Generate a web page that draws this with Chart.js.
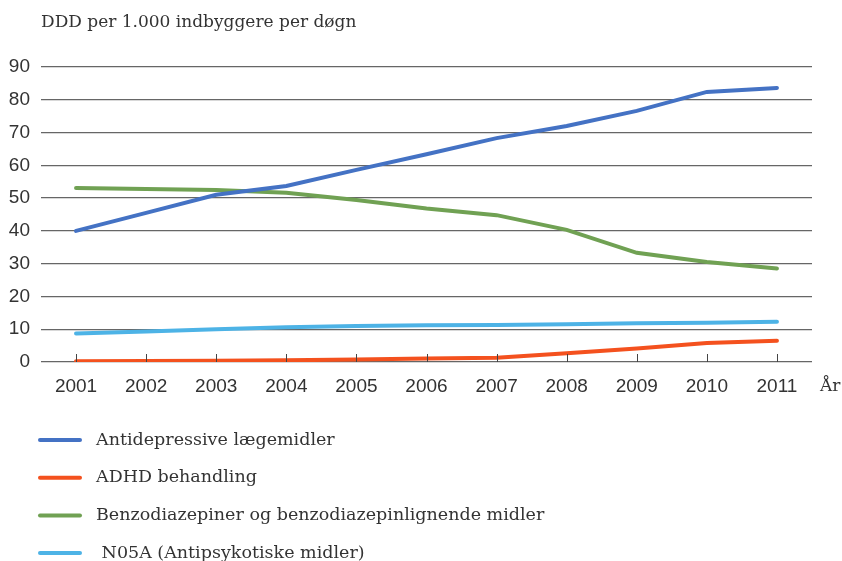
<!DOCTYPE html>
<html>
<script src="https://cdn.jsdelivr.net/npm/chart.js@4/dist/chart.umd.min.js"></script>
<body style="margin:0;background:#fff">

<canvas id="myChart" width="842" height="561"></canvas>

<script>
const years = ["2001","2002","2003","2004","2005","2006","2007","2008","2009","2010","2011"];
const antidepressive = [40.0, 45.5, 51.0, 53.7, 58.6, 63.4, 68.3, 72.0, 76.6, 82.4, 83.6];
const adhd = [0.2, 0.3, 0.4, 0.5, 0.8, 1.1, 1.3, 2.7, 4.1, 5.8, 6.5];
const benzo = [53.1, 52.8, 52.5, 51.6, 49.4, 46.8, 44.8, 40.3, 33.3, 30.5, 28.5];
const n05a = [8.7, 9.3, 10.0, 10.6, 11.0, 11.2, 11.3, 11.5, 11.8, 12.0, 12.3];
const seriesNames = ["Antidepressive lægemidler", "ADHD behandling", "Benzodiazepiner og benzodiazepinlignende midler", " N05A (Antipsykotiske midler)"];
const lineColors = ["#4472C4", "#F4511E", "#70A153", "#4DB3E6"];

const serif = "'DejaVu Serif', serif";
const sans = "'Liberation Sans', Arial, sans-serif";

// small tick marks inside the plot, the "År" label and the stacked legend
const extras = {
  id: "extras",
  afterDraw(chart) {
    const ctx = chart.ctx;
    const area = chart.chartArea;
    const x = chart.scales.x;
    ctx.save();
    ctx.strokeStyle = "#444";
    ctx.lineWidth = 1;
    for (let i = 0; i < years.length; i++) {
      const px = Math.round(x.getPixelForValue(i)) + 0.5;
      ctx.beginPath();
      ctx.moveTo(px, area.bottom - 8);
      ctx.lineTo(px, area.bottom);
      ctx.stroke();
    }
    ctx.fillStyle = "#333";
    ctx.font = "17px " + serif;
    ctx.textBaseline = "middle";
    ctx.textAlign = "left";
    ctx.fillText("År", area.right + 8, area.bottom + 25);

    ctx.font = "17.5px " + serif;
    chart.data.datasets.forEach((ds, i) => {
      const y = 440 + i * 37.7;
      ctx.strokeStyle = ds.borderColor;
      ctx.lineWidth = 4;
      ctx.lineCap = "round";
      ctx.beginPath();
      ctx.moveTo(40, y);
      ctx.lineTo(80, y);
      ctx.stroke();
      ctx.fillStyle = "#333";
      ctx.fillText(ds.label, 96, y);
    });
    ctx.restore();
  }
};

const myChart = new Chart("myChart", {
  type: "line",
  data: {
    labels: years,
    datasets: [antidepressive, adhd, benzo, n05a].map((d, i) => ({
      label: seriesNames[i],
      data: d,
      borderColor: lineColors[i],
      backgroundColor: lineColors[i],
      borderWidth: 4,
      pointRadius: 0,
      tension: 0,
      borderCapStyle: "round"
    }))
  },
  options: {
    responsive: false,
    animation: false,
    layout: { padding: { left: 0, right: 30, top: 6, bottom: 162.6 } },
    plugins: {
      legend: { display: false },
      tooltip: { enabled: false },
      title: {
        display: true,
        text: "DDD per 1.000 indbyggere per døgn",
        align: "start",
        fullSize: false,
        color: "#333",
        font: { family: serif, size: 17, weight: "normal" },
        padding: { top: 6, bottom: 34.6 }
      }
    },
    scales: {
      x: {
        offset: true,
        grid: { display: false, drawTicks: false },
        border: { display: false },
        ticks: { color: "#333", font: { family: sans, size: 19 }, padding: 13.6, maxRotation: 0 },
        afterFit(scale) { scale.height = 36.4; }
      },
      y: {
        min: 0,
        max: 90,
        ticks: { stepSize: 10, color: "#333", font: { family: sans, size: 19 }, padding: 11 },
        grid: { color: "#666", lineWidth: 1.3, drawTicks: false },
        border: { display: false },
        afterFit(scale) { scale.width = 41; }
      }
    }
  },
  plugins: [extras]
});
</script>

</body>
</html>
